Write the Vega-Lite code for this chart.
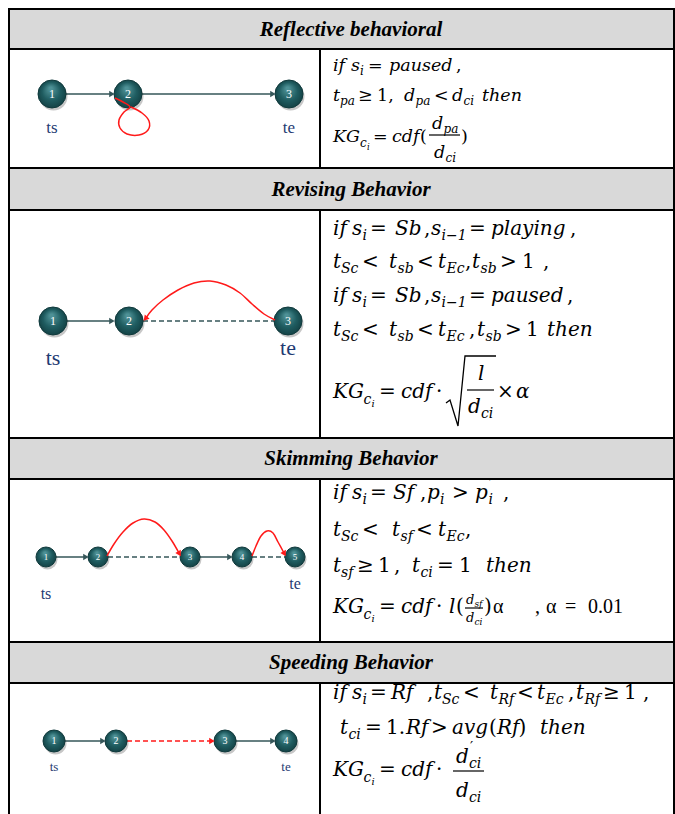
{
  "$schema": "https://vega.github.io/schema/vega-lite/v6.json",
  "width": 675,
  "height": 814,
  "padding": 0,
  "autosize": {"type": "none"},
  "background": "white",
  "config": {"view": {"stroke": null}},
  "datasets": {
    "hdr": [
      {"x": 9, "x2": 674, "y": 9, "y2": 49},
      {"x": 9, "x2": 674, "y": 168, "y2": 210},
      {"x": 9, "x2": 674, "y": 438, "y2": 479},
      {"x": 9, "x2": 674, "y": 642, "y2": 683}
    ],
    "grid": [
      {"x": 8, "y": 9, "x2": 675, "y2": 9},
      {"x": 8, "y": 49, "x2": 675, "y2": 49},
      {"x": 8, "y": 168, "x2": 675, "y2": 168},
      {"x": 8, "y": 210, "x2": 675, "y2": 210},
      {"x": 8, "y": 438, "x2": 675, "y2": 438},
      {"x": 8, "y": 479, "x2": 675, "y2": 479},
      {"x": 8, "y": 642, "x2": 675, "y2": 642},
      {"x": 8, "y": 683, "x2": 675, "y2": 683},
      {"x": 9, "y": 8, "x2": 9, "y2": 814},
      {"x": 674, "y": 8, "x2": 674, "y2": 814},
      {"x": 320, "y": 49, "x2": 320, "y2": 168},
      {"x": 320, "y": 210, "x2": 320, "y2": 438},
      {"x": 320, "y": 479, "x2": 320, "y2": 642},
      {"x": 320, "y": 683, "x2": 320, "y2": 814}
    ],
    "htxt": [
      {"x": 351, "y": 36, "t": "Reflective behavioral"},
      {"x": 351, "y": 196, "t": "Revising Behavior"},
      {"x": 351, "y": 465, "t": "Skimming Behavior"},
      {"x": 351, "y": 669, "t": "Speeding Behavior"}
    ],
    "links": [
      {"x": 66, "y": 94, "x2": 112, "y2": 94, "k": "dark", "s": "solid"},
      {"x": 142, "y": 94, "x2": 273, "y2": 94, "k": "dark", "s": "solid"},
      {"x": 67, "y": 321, "x2": 113, "y2": 321, "k": "dark", "s": "solid"},
      {"x": 143, "y": 321, "x2": 274, "y2": 321, "k": "dark", "s": "dashed"},
      {"x": 56, "y": 557, "x2": 86, "y2": 557, "k": "dark", "s": "solid"},
      {"x": 108, "y": 557, "x2": 180, "y2": 557, "k": "dark", "s": "dashed"},
      {"x": 200, "y": 557, "x2": 230, "y2": 557, "k": "dark", "s": "solid"},
      {"x": 252, "y": 557, "x2": 285, "y2": 557, "k": "dark", "s": "dashed"},
      {"x": 65, "y": 741, "x2": 103, "y2": 741, "k": "dark", "s": "solid"},
      {"x": 127, "y": 741, "x2": 212, "y2": 741, "k": "red", "s": "dashed"},
      {"x": 236, "y": 741, "x2": 273, "y2": 741, "k": "dark", "s": "solid"}
    ],
    "heads": [
      {"x": 111, "y": 94, "a": 90, "k": "dark"},
      {"x": 272, "y": 94, "a": 90, "k": "dark"},
      {"x": 111, "y": 321, "a": 90, "k": "dark"},
      {"x": 146, "y": 318, "a": 220, "k": "red"},
      {"x": 85, "y": 557, "a": 90, "k": "dark"},
      {"x": 229, "y": 557, "a": 90, "k": "dark"},
      {"x": 179, "y": 553, "a": 150, "k": "red"},
      {"x": 284, "y": 553, "a": 151, "k": "red"},
      {"x": 102, "y": 741, "a": 90, "k": "dark"},
      {"x": 211, "y": 741, "a": 90, "k": "red"},
      {"x": 272, "y": 741, "a": 90, "k": "dark"}
    ],
    "curves": [
      {"id": "A1", "o": 1, "x": 115, "y": 98},
      {"id": "A1", "o": 2, "x": 123, "y": 102},
      {"id": "A1", "o": 3, "x": 130, "y": 107},
      {"id": "A1", "o": 4, "x": 124, "y": 112},
      {"id": "A1", "o": 5, "x": 119, "y": 120},
      {"id": "A1", "o": 6, "x": 120, "y": 128},
      {"id": "A1", "o": 7, "x": 127, "y": 134},
      {"id": "A1", "o": 8, "x": 139, "y": 135},
      {"id": "A1", "o": 9, "x": 148, "y": 130},
      {"id": "A1", "o": 10, "x": 149, "y": 121},
      {"id": "A1", "o": 11, "x": 142, "y": 113},
      {"id": "A1", "o": 12, "x": 131, "y": 107},
      {"id": "B1", "o": 1, "x": 275, "y": 320},
      {"id": "B1", "o": 2, "x": 264, "y": 314},
      {"id": "B1", "o": 3, "x": 252, "y": 304},
      {"id": "B1", "o": 4, "x": 240, "y": 293},
      {"id": "B1", "o": 5, "x": 226, "y": 285},
      {"id": "B1", "o": 6, "x": 210, "y": 281},
      {"id": "B1", "o": 7, "x": 194, "y": 283},
      {"id": "B1", "o": 8, "x": 178, "y": 290},
      {"id": "B1", "o": 9, "x": 163, "y": 300},
      {"id": "B1", "o": 10, "x": 152, "y": 310},
      {"id": "B1", "o": 11, "x": 146, "y": 318},
      {"id": "C1", "o": 1, "x": 107, "y": 556},
      {"id": "C1", "o": 2, "x": 114, "y": 544},
      {"id": "C1", "o": 3, "x": 123, "y": 532},
      {"id": "C1", "o": 4, "x": 133, "y": 523},
      {"id": "C1", "o": 5, "x": 144, "y": 519},
      {"id": "C1", "o": 6, "x": 155, "y": 522},
      {"id": "C1", "o": 7, "x": 164, "y": 530},
      {"id": "C1", "o": 8, "x": 172, "y": 541},
      {"id": "C1", "o": 9, "x": 179, "y": 553},
      {"id": "C2", "o": 1, "x": 252, "y": 556},
      {"id": "C2", "o": 2, "x": 256, "y": 546},
      {"id": "C2", "o": 3, "x": 261, "y": 536},
      {"id": "C2", "o": 4, "x": 267, "y": 531},
      {"id": "C2", "o": 5, "x": 273, "y": 533},
      {"id": "C2", "o": 6, "x": 278, "y": 542},
      {"id": "C2", "o": 7, "x": 284, "y": 553}
    ],
    "nodes": [
      {"p": "A", "x": 52, "y": 94, "n": "1"},
      {"p": "A", "x": 128, "y": 94, "n": "2"},
      {"p": "A", "x": 289, "y": 94, "n": "3"},
      {"p": "B", "x": 53, "y": 321, "n": "1"},
      {"p": "B", "x": 129, "y": 321, "n": "2"},
      {"p": "B", "x": 288, "y": 321, "n": "3"},
      {"p": "C", "x": 46, "y": 557, "n": "1"},
      {"p": "C", "x": 98, "y": 557, "n": "2"},
      {"p": "C", "x": 190, "y": 557, "n": "3"},
      {"p": "C", "x": 242, "y": 557, "n": "4"},
      {"p": "C", "x": 295, "y": 557, "n": "5"},
      {"p": "D", "x": 54, "y": 741, "n": "1"},
      {"p": "D", "x": 116, "y": 741, "n": "2"},
      {"p": "D", "x": 225, "y": 741, "n": "3"},
      {"p": "D", "x": 286, "y": 741, "n": "4"}
    ],
    "tste": [
      {"p": "A", "x": 52, "y": 133, "t": "ts"},
      {"p": "A", "x": 289, "y": 133, "t": "te"},
      {"p": "B", "x": 53, "y": 365, "t": "ts"},
      {"p": "B", "x": 288, "y": 355, "t": "te"},
      {"p": "C", "x": 46, "y": 599, "t": "ts"},
      {"p": "C", "x": 295, "y": 589, "t": "te"},
      {"p": "D", "x": 54, "y": 771, "t": "ts"},
      {"p": "D", "x": 286, "y": 771, "t": "te"}
    ],
    "bars": [
      {"x": 429, "x2": 460, "y": 135},
      {"x": 467, "x2": 494, "y": 390},
      {"x": 465, "x2": 483, "y": 608},
      {"x": 453, "x2": 484, "y": 771}
    ],
    "radical": [
      {"o": 1, "x": 446, "y": 403},
      {"o": 2, "x": 450, "y": 400},
      {"o": 3, "x": 458, "y": 426},
      {"o": 4, "x": 465, "y": 356},
      {"o": 5, "x": 496, "y": 356}
    ],
    "math": [
      {"x": 333, "y": 71, "t": "if", "r": "mA", "f": "i"},
      {"x": 351, "y": 71, "t": "s", "r": "mA", "f": "i"},
      {"x": 360, "y": 75, "t": "i", "r": "sA", "f": "i"},
      {"x": 368, "y": 71, "t": "=", "r": "mA", "f": "u"},
      {"x": 389, "y": 71, "t": "paused", "r": "mA", "f": "i"},
      {"x": 456, "y": 71, "t": ",", "r": "mA", "f": "u"},
      {"x": 333, "y": 101, "t": "t", "r": "mA", "f": "i"},
      {"x": 340, "y": 105, "t": "pa", "r": "sA", "f": "i"},
      {"x": 358, "y": 101, "t": "≥", "r": "mA", "f": "u"},
      {"x": 377, "y": 101, "t": "1,", "r": "mA", "f": "u"},
      {"x": 404, "y": 101, "t": "d", "r": "mA", "f": "i"},
      {"x": 415.5, "y": 105, "t": "pa", "r": "sA", "f": "i"},
      {"x": 434, "y": 101, "t": "<", "r": "mA", "f": "u"},
      {"x": 452, "y": 101, "t": "d", "r": "mA", "f": "i"},
      {"x": 463.5, "y": 105, "t": "ci", "r": "sA", "f": "i"},
      {"x": 482, "y": 101, "t": "then", "r": "mA", "f": "i"},
      {"x": 333, "y": 142, "t": "KG", "r": "mA", "f": "i"},
      {"x": 360, "y": 147, "t": "c", "r": "sA", "f": "i"},
      {"x": 367, "y": 150, "t": "i", "r": "ssA", "f": "i"},
      {"x": 373, "y": 142, "t": "=", "r": "mA", "f": "u"},
      {"x": 392, "y": 142, "t": "cdf", "r": "mA", "f": "i"},
      {"x": 420, "y": 142, "t": "(", "r": "mA", "f": "u"},
      {"x": 432, "y": 129, "t": "d", "r": "mA", "f": "i"},
      {"x": 443.5, "y": 133, "t": "pa", "r": "sA", "f": "i"},
      {"x": 434, "y": 158, "t": "d", "r": "mA", "f": "i"},
      {"x": 445.5, "y": 162, "t": "ci", "r": "sA", "f": "i"},
      {"x": 461, "y": 142, "t": ")", "r": "mA", "f": "u"},

      {"x": 333, "y": 235, "t": "if", "r": "m", "f": "i"},
      {"x": 352, "y": 235, "t": "s", "r": "m", "f": "i"},
      {"x": 362.5, "y": 240, "t": "i", "r": "s", "f": "i"},
      {"x": 370, "y": 235, "t": "=", "r": "m", "f": "u"},
      {"x": 395, "y": 235, "t": "Sb", "r": "m", "f": "i"},
      {"x": 424, "y": 235, "t": ",", "r": "m", "f": "u"},
      {"x": 431, "y": 235, "t": "s", "r": "m", "f": "i"},
      {"x": 441.5, "y": 240, "t": "i−1", "r": "s", "f": "i"},
      {"x": 469, "y": 235, "t": "=", "r": "m", "f": "u"},
      {"x": 491, "y": 235, "t": "playing", "r": "m", "f": "i"},
      {"x": 570, "y": 235, "t": ",", "r": "m", "f": "u"},
      {"x": 333, "y": 268, "t": "t", "r": "m", "f": "i"},
      {"x": 341, "y": 273, "t": "Sc", "r": "s", "f": "i"},
      {"x": 362, "y": 268, "t": "<", "r": "m", "f": "u"},
      {"x": 389, "y": 268, "t": "t", "r": "m", "f": "i"},
      {"x": 397.5, "y": 273, "t": "sb", "r": "s", "f": "i"},
      {"x": 417, "y": 268, "t": "<", "r": "m", "f": "u"},
      {"x": 438, "y": 268, "t": "t", "r": "m", "f": "i"},
      {"x": 446.5, "y": 273, "t": "Ec", "r": "s", "f": "i"},
      {"x": 465, "y": 268, "t": ",", "r": "m", "f": "u"},
      {"x": 472, "y": 268, "t": "t", "r": "m", "f": "i"},
      {"x": 480.5, "y": 273, "t": "sb", "r": "s", "f": "i"},
      {"x": 500, "y": 268, "t": ">", "r": "m", "f": "u"},
      {"x": 522, "y": 268, "t": "1", "r": "m", "f": "u"},
      {"x": 543, "y": 268, "t": ",", "r": "m", "f": "u"},
      {"x": 333, "y": 302, "t": "if", "r": "m", "f": "i"},
      {"x": 352, "y": 302, "t": "s", "r": "m", "f": "i"},
      {"x": 362.5, "y": 307, "t": "i", "r": "s", "f": "i"},
      {"x": 370, "y": 302, "t": "=", "r": "m", "f": "u"},
      {"x": 395, "y": 302, "t": "Sb", "r": "m", "f": "i"},
      {"x": 424, "y": 302, "t": ",", "r": "m", "f": "u"},
      {"x": 431, "y": 302, "t": "s", "r": "m", "f": "i"},
      {"x": 441.5, "y": 307, "t": "i−1", "r": "s", "f": "i"},
      {"x": 469, "y": 302, "t": "=", "r": "m", "f": "u"},
      {"x": 491, "y": 302, "t": "paused", "r": "m", "f": "i"},
      {"x": 567, "y": 302, "t": ",", "r": "m", "f": "u"},
      {"x": 333, "y": 336, "t": "t", "r": "m", "f": "i"},
      {"x": 341, "y": 341, "t": "Sc", "r": "s", "f": "i"},
      {"x": 362, "y": 336, "t": "<", "r": "m", "f": "u"},
      {"x": 389, "y": 336, "t": "t", "r": "m", "f": "i"},
      {"x": 397.5, "y": 341, "t": "sb", "r": "s", "f": "i"},
      {"x": 417, "y": 336, "t": "<", "r": "m", "f": "u"},
      {"x": 438, "y": 336, "t": "t", "r": "m", "f": "i"},
      {"x": 446.5, "y": 341, "t": "Ec", "r": "s", "f": "i"},
      {"x": 469, "y": 336, "t": ",", "r": "m", "f": "u"},
      {"x": 477, "y": 336, "t": "t", "r": "m", "f": "i"},
      {"x": 485.5, "y": 341, "t": "sb", "r": "s", "f": "i"},
      {"x": 505, "y": 336, "t": ">", "r": "m", "f": "u"},
      {"x": 526, "y": 336, "t": "1", "r": "m", "f": "u"},
      {"x": 547, "y": 336, "t": "then", "r": "m", "f": "i"},
      {"x": 333, "y": 398, "t": "KG", "r": "m", "f": "i"},
      {"x": 363.5, "y": 404, "t": "c", "r": "s", "f": "i"},
      {"x": 371.5, "y": 407, "t": "i", "r": "ss", "f": "i"},
      {"x": 379, "y": 398, "t": "=", "r": "m", "f": "u"},
      {"x": 401, "y": 398, "t": "cdf", "r": "m", "f": "i"},
      {"x": 436, "y": 398, "t": "·", "r": "m", "f": "u"},
      {"x": 478, "y": 380, "t": "l", "r": "m", "f": "i"},
      {"x": 468, "y": 413, "t": "d", "r": "m", "f": "i"},
      {"x": 481, "y": 418, "t": "ci", "r": "s", "f": "i"},
      {"x": 497, "y": 398, "t": "×", "r": "m", "f": "u"},
      {"x": 516, "y": 398, "t": "α", "r": "m", "f": "i"},

      {"x": 333, "y": 499, "t": "if", "r": "m", "f": "i"},
      {"x": 352, "y": 499, "t": "s", "r": "m", "f": "i"},
      {"x": 362.5, "y": 504, "t": "i", "r": "s", "f": "i"},
      {"x": 370, "y": 499, "t": "=", "r": "m", "f": "u"},
      {"x": 393, "y": 499, "t": "Sf", "r": "m", "f": "i"},
      {"x": 420, "y": 499, "t": ",", "r": "m", "f": "u"},
      {"x": 427, "y": 499, "t": "p", "r": "m", "f": "i"},
      {"x": 440, "y": 504, "t": "i", "r": "s", "f": "i"},
      {"x": 452, "y": 499, "t": ">", "r": "m", "f": "u"},
      {"x": 475, "y": 499, "t": "p", "r": "m", "f": "i"},
      {"x": 489, "y": 489, "t": "′", "r": "s", "f": "u"},
      {"x": 488.5, "y": 504, "t": "i", "r": "s", "f": "i"},
      {"x": 503, "y": 499, "t": ",", "r": "m", "f": "u"},
      {"x": 333, "y": 536, "t": "t", "r": "m", "f": "i"},
      {"x": 341, "y": 541, "t": "Sc", "r": "s", "f": "i"},
      {"x": 362, "y": 536, "t": "<", "r": "m", "f": "u"},
      {"x": 392, "y": 536, "t": "t", "r": "m", "f": "i"},
      {"x": 400.5, "y": 541, "t": "sf", "r": "s", "f": "i"},
      {"x": 416, "y": 536, "t": "<", "r": "m", "f": "u"},
      {"x": 438, "y": 536, "t": "t", "r": "m", "f": "i"},
      {"x": 446.5, "y": 541, "t": "Ec", "r": "s", "f": "i"},
      {"x": 465, "y": 536, "t": ",", "r": "m", "f": "u"},
      {"x": 333, "y": 572, "t": "t", "r": "m", "f": "i"},
      {"x": 341, "y": 577, "t": "sf", "r": "s", "f": "i"},
      {"x": 357, "y": 572, "t": "≥", "r": "m", "f": "u"},
      {"x": 378, "y": 572, "t": "1", "r": "m", "f": "u"},
      {"x": 394, "y": 572, "t": ",", "r": "m", "f": "u"},
      {"x": 412, "y": 572, "t": "t", "r": "m", "f": "i"},
      {"x": 420.5, "y": 577, "t": "ci", "r": "s", "f": "i"},
      {"x": 437, "y": 572, "t": "=", "r": "m", "f": "u"},
      {"x": 459, "y": 572, "t": "1", "r": "m", "f": "u"},
      {"x": 486, "y": 572, "t": "then", "r": "m", "f": "i"},
      {"x": 333, "y": 613, "t": "KG", "r": "m", "f": "i"},
      {"x": 363.5, "y": 619, "t": "c", "r": "s", "f": "i"},
      {"x": 371.5, "y": 622, "t": "i", "r": "ss", "f": "i"},
      {"x": 379, "y": 613, "t": "=", "r": "m", "f": "u"},
      {"x": 401, "y": 613, "t": "cdf", "r": "m", "f": "i"},
      {"x": 436, "y": 613, "t": "·", "r": "m", "f": "u"},
      {"x": 449, "y": 613, "t": "l", "r": "m", "f": "i"},
      {"x": 456, "y": 613, "t": "(", "r": "m", "f": "u"},
      {"x": 466, "y": 604, "t": "d", "r": "f", "f": "i"},
      {"x": 474.5, "y": 607, "t": "sf", "r": "fs", "f": "i"},
      {"x": 466, "y": 622, "t": "d", "r": "f", "f": "i"},
      {"x": 474.5, "y": 625, "t": "ci", "r": "fs", "f": "i"},
      {"x": 484, "y": 613, "t": ")", "r": "m", "f": "u"},
      {"x": 493, "y": 613, "t": "α", "r": "L", "f": "t"},
      {"x": 535, "y": 613, "t": ",", "r": "L", "f": "t"},
      {"x": 546, "y": 613, "t": "α", "r": "L", "f": "t"},
      {"x": 565, "y": 613, "t": "=", "r": "L", "f": "t"},
      {"x": 588, "y": 613, "t": "0.01", "r": "L", "f": "t"},

      {"x": 333, "y": 699, "t": "if", "r": "m", "f": "i"},
      {"x": 352, "y": 699, "t": "s", "r": "m", "f": "i"},
      {"x": 362.5, "y": 704, "t": "i", "r": "s", "f": "i"},
      {"x": 370, "y": 699, "t": "=", "r": "m", "f": "u"},
      {"x": 391, "y": 699, "t": "Rf", "r": "m", "f": "i"},
      {"x": 427, "y": 699, "t": ",", "r": "m", "f": "u"},
      {"x": 434, "y": 699, "t": "t", "r": "m", "f": "i"},
      {"x": 442, "y": 704, "t": "Sc", "r": "s", "f": "i"},
      {"x": 463, "y": 699, "t": "<", "r": "m", "f": "u"},
      {"x": 490, "y": 699, "t": "t", "r": "m", "f": "i"},
      {"x": 498.5, "y": 704, "t": "Rf", "r": "s", "f": "i"},
      {"x": 517, "y": 699, "t": "<", "r": "m", "f": "u"},
      {"x": 537, "y": 699, "t": "t", "r": "m", "f": "i"},
      {"x": 545.5, "y": 704, "t": "Ec", "r": "s", "f": "i"},
      {"x": 568, "y": 699, "t": ",", "r": "m", "f": "u"},
      {"x": 576, "y": 699, "t": "t", "r": "m", "f": "i"},
      {"x": 584.5, "y": 704, "t": "Rf", "r": "s", "f": "i"},
      {"x": 603, "y": 699, "t": "≥", "r": "m", "f": "u"},
      {"x": 624, "y": 699, "t": "1", "r": "m", "f": "u"},
      {"x": 643, "y": 699, "t": ",", "r": "m", "f": "u"},
      {"x": 340, "y": 734, "t": "t", "r": "m", "f": "i"},
      {"x": 348.5, "y": 739, "t": "ci", "r": "s", "f": "i"},
      {"x": 365, "y": 734, "t": "=", "r": "m", "f": "u"},
      {"x": 386, "y": 734, "t": "1.", "r": "m", "f": "u"},
      {"x": 406, "y": 734, "t": "Rf", "r": "m", "f": "i"},
      {"x": 431, "y": 734, "t": ">", "r": "m", "f": "u"},
      {"x": 452, "y": 734, "t": "avg", "r": "m", "f": "i"},
      {"x": 489, "y": 734, "t": "(", "r": "m", "f": "u"},
      {"x": 497, "y": 734, "t": "Rf", "r": "m", "f": "i"},
      {"x": 518.5, "y": 734, "t": ")", "r": "m", "f": "u"},
      {"x": 540, "y": 734, "t": "then", "r": "m", "f": "i"},
      {"x": 333, "y": 776, "t": "KG", "r": "m", "f": "i"},
      {"x": 363.5, "y": 782, "t": "c", "r": "s", "f": "i"},
      {"x": 371.5, "y": 785, "t": "i", "r": "ss", "f": "i"},
      {"x": 379, "y": 776, "t": "=", "r": "m", "f": "u"},
      {"x": 401, "y": 776, "t": "cdf", "r": "m", "f": "i"},
      {"x": 436, "y": 776, "t": "·", "r": "m", "f": "u"},
      {"x": 456, "y": 763, "t": "d", "r": "m", "f": "i"},
      {"x": 470, "y": 752, "t": "′", "r": "s", "f": "u"},
      {"x": 469, "y": 768, "t": "ci", "r": "s", "f": "i"},
      {"x": 456, "y": 797, "t": "d", "r": "m", "f": "i"},
      {"x": 469, "y": 802, "t": "ci", "r": "s", "f": "i"}
    ]
  },
  "encoding": {
    "x": {"field": "x", "type": "quantitative", "scale": {"domain": [0, 675], "nice": false, "zero": false}, "axis": null},
    "y": {"field": "y", "type": "quantitative", "scale": {"domain": [0, 814], "nice": false, "zero": false, "reverse": true}, "axis": null}
  },
  "resolve": {"scale": {"size": "independent", "color": "independent"}},
  "layer": [
    {
      "data": {"name": "hdr"},
      "mark": {"type": "rect", "fill": "#d9d9d9"},
      "encoding": {"x2": {"field": "x2"}, "y2": {"field": "y2"}}
    },
    {
      "data": {"name": "grid"},
      "mark": {"type": "rule", "stroke": "#000000", "strokeWidth": 2},
      "encoding": {"x2": {"field": "x2"}, "y2": {"field": "y2"}}
    },
    {
      "data": {"name": "htxt"},
      "mark": {"type": "text", "font": "Liberation Serif, Times New Roman, serif", "fontStyle": "italic", "fontWeight": "bold", "fontSize": 21, "align": "center", "baseline": "alphabetic", "color": "#000000"},
      "encoding": {"text": {"field": "t"}}
    },
    {
      "data": {"name": "links"},
      "mark": {"type": "rule", "strokeWidth": 1.5},
      "encoding": {
        "x2": {"field": "x2"}, "y2": {"field": "y2"},
        "color": {"field": "k", "type": "nominal", "scale": {"type": "ordinal", "domain": ["dark", "red"], "range": ["#36575a", "#ff1a1a"]}, "legend": null},
        "strokeDash": {"field": "s", "type": "nominal", "scale": {"domain": ["solid", "dashed"], "range": [[1, 0], [5, 3]]}, "legend": null}
      }
    },
    {
      "data": {"name": "nodes"},
      "mark": {"type": "point", "shape": "circle", "filled": true, "fill": "#000000", "opacity": 0.22, "xOffset": 1.5, "yOffset": 2.5},
      "encoding": {"size": {"field": "p", "type": "nominal", "scale": {"type": "ordinal", "domain": ["A", "B", "C", "D"], "range": [784, 784, 400, 484]}, "legend": null}}
    },
    {
      "data": {"name": "nodes"},
      "mark": {
        "type": "point", "shape": "circle", "filled": true, "opacity": 1, "stroke": "#103a3c", "strokeWidth": 1,
        "fill": {"gradient": "radial", "x1": 0.45, "y1": 0.3, "r1": 0.05, "x2": 0.5, "y2": 0.5, "r2": 0.55,
          "stops": [{"offset": 0, "color": "#4e9196"}, {"offset": 0.55, "color": "#1f5c60"}, {"offset": 1, "color": "#123e41"}]}
      },
      "encoding": {"size": {"field": "p", "type": "nominal", "scale": {"type": "ordinal", "domain": ["A", "B", "C", "D"], "range": [784, 784, 400, 484]}, "legend": null}}
    },
    {
      "data": {"name": "nodes"},
      "mark": {"type": "text", "font": "Liberation Serif, Times New Roman, serif", "color": "#ffffff", "align": "center", "baseline": "middle"},
      "encoding": {
        "text": {"field": "n"},
        "size": {"field": "p", "type": "nominal", "scale": {"type": "ordinal", "domain": ["A", "B", "C", "D"], "range": [12, 12, 9, 10]}, "legend": null}
      }
    },
    {
      "data": {"name": "curves"},
      "mark": {"type": "line", "stroke": "#ff1a1a", "strokeWidth": 1.5, "interpolate": "cardinal"},
      "encoding": {"detail": {"field": "id"}, "order": {"field": "o", "type": "quantitative"}}
    },
    {
      "data": {"name": "heads"},
      "mark": {"type": "point", "shape": "triangle", "filled": true, "opacity": 1, "size": 40},
      "encoding": {
        "angle": {"field": "a", "type": "quantitative", "scale": {"domain": [0, 360], "range": [0, 360]}},
        "color": {"field": "k", "type": "nominal", "scale": {"type": "ordinal", "domain": ["dark", "red"], "range": ["#36575a", "#ff1a1a"]}, "legend": null}
      }
    },
    {
      "data": {"name": "tste"},
      "mark": {"type": "text", "font": "Liberation Serif, Times New Roman, serif", "color": "#1f3b73", "align": "center", "baseline": "alphabetic"},
      "encoding": {
        "text": {"field": "t"},
        "size": {"field": "p", "type": "nominal", "scale": {"type": "ordinal", "domain": ["A", "B", "C", "D"], "range": [17, 22, 16, 13]}, "legend": null}
      }
    },
    {
      "data": {"name": "bars"},
      "mark": {"type": "rule", "stroke": "#000000", "strokeWidth": 1.2},
      "encoding": {"x2": {"field": "x2"}}
    },
    {
      "data": {"name": "radical"},
      "mark": {"type": "line", "stroke": "#000000", "strokeWidth": 1.3, "interpolate": "linear"},
      "encoding": {"order": {"field": "o", "type": "quantitative"}}
    },
    {
      "data": {"name": "math"},
      "transform": [{"filter": "datum.f == 'i'"}],
      "mark": {"type": "text", "font": "DejaVu Serif", "fontStyle": "italic", "color": "#000000", "align": "left", "baseline": "alphabetic"},
      "encoding": {
        "text": {"field": "t"},
        "size": {"field": "r", "type": "nominal", "scale": {"type": "ordinal", "domain": ["m", "s", "ss", "f", "fs", "L", "mA", "sA", "ssA"], "range": [20, 14, 10, 13, 9, 20, 17.5, 12, 8.5]}, "legend": null}
      }
    },
    {
      "data": {"name": "math"},
      "transform": [{"filter": "datum.f == 'u'"}],
      "mark": {"type": "text", "font": "DejaVu Serif", "color": "#000000", "align": "left", "baseline": "alphabetic"},
      "encoding": {
        "text": {"field": "t"},
        "size": {"field": "r", "type": "nominal", "scale": {"type": "ordinal", "domain": ["m", "s", "ss", "f", "fs", "L", "mA", "sA", "ssA"], "range": [20, 14, 10, 13, 9, 20, 17.5, 12, 8.5]}, "legend": null}
      }
    },
    {
      "data": {"name": "math"},
      "transform": [{"filter": "datum.f == 't'"}],
      "mark": {"type": "text", "font": "Liberation Serif, Times New Roman, serif", "color": "#000000", "align": "left", "baseline": "alphabetic"},
      "encoding": {
        "text": {"field": "t"},
        "size": {"field": "r", "type": "nominal", "scale": {"type": "ordinal", "domain": ["m", "s", "ss", "f", "fs", "L", "mA", "sA", "ssA"], "range": [20, 14, 10, 13, 9, 20, 17.5, 12, 8.5]}, "legend": null}
      }
    }
  ]
}
